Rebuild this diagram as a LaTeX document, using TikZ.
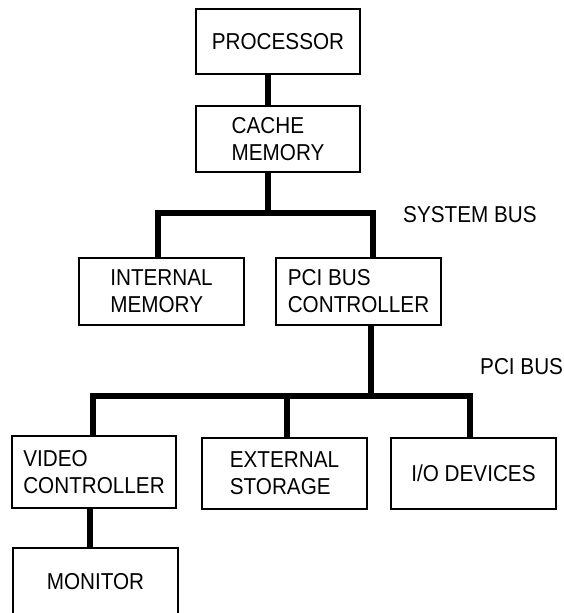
\documentclass[tikz,border=0pt]{standalone}
\usepackage{fontspec}
\setmainfont{Liberation Sans}[FakeStretch=0.9]
\begin{document}
\begin{tikzpicture}[x=1pt,y=1pt,
  box/.style={draw=black, line width=1.6pt, inner sep=0pt, align=left,
    font=\fontsize{23}{27}\selectfont, minimum width=165pt},
  bus/.style={draw=black, line width=5.5pt, line join=miter},
  lbl/.style={inner sep=0pt, anchor=west, font=\fontsize{23}{27}\selectfont}]
\useasboundingbox (0,0) rectangle (563,-613);
\clip (0,0) rectangle (563,-613);
\fill[white] (0,0) rectangle (563,-613);
% boxes
\node[box, minimum width=164pt, minimum height=65pt] (proc) at (278,-41.5) {PROCESSOR};
\node[box, minimum width=164pt, minimum height=66pt] (cache) at (278,-139) {CACHE\\MEMORY};
\node[box, minimum height=67pt] (intmem) at (161.5,-291.5) {INTERNAL\\MEMORY};
\node[box, minimum height=67pt] (pcictl) at (358.5,-291.5) {PCI BUS\\CONTROLLER};
\node[box, minimum width=164pt, minimum height=72pt] (video) at (94,-472) {VIDEO\\CONTROLLER};
\node[box, minimum height=71pt] (ext) at (284.5,-473.5) {EXTERNAL\\STORAGE};
\node[box, minimum height=71pt] (io) at (473.5,-473.5) {I/O DEVICES};
\node[box, minimum height=68pt] (mon) at (95.5,-582) {MONITOR};
% labels
\node[lbl] (sysl) at (403,-215) {SYSTEM BUS};
\node[lbl] (pcil) at (480,-367) {PCI BUS};
% bus coordinates
\coordinate (sysc) at (268,-213);
\coordinate (sysL) at (158,-213);
\coordinate (sysR) at (373,-213);
\coordinate (pcic) at (371,-396);
\coordinate (pciL) at (93,-396);
\coordinate (pciM) at (287,-396);
\coordinate (pciR) at (470,-396);
\coordinate (monx) at (90,0);
% connectors
\draw[bus] (proc.south -| sysc) -- (cache.north -| sysc);
\draw[bus] (cache.south -| sysc) -- (sysc);
\draw[bus] (intmem.north -| sysL) -- (sysL) -- (sysR) -- (pcictl.north -| sysR);
\draw[bus] (pcictl.south -| pcic) -- (pcic);
\draw[bus] (video.north -| pciL) -- (pciL) -- (pciR) -- (io.north -| pciR);
\draw[bus] (pciM) -- (ext.north -| pciM);
\draw[bus] (video.south -| monx) -- (mon.north -| monx);
\end{tikzpicture}
\end{document}
